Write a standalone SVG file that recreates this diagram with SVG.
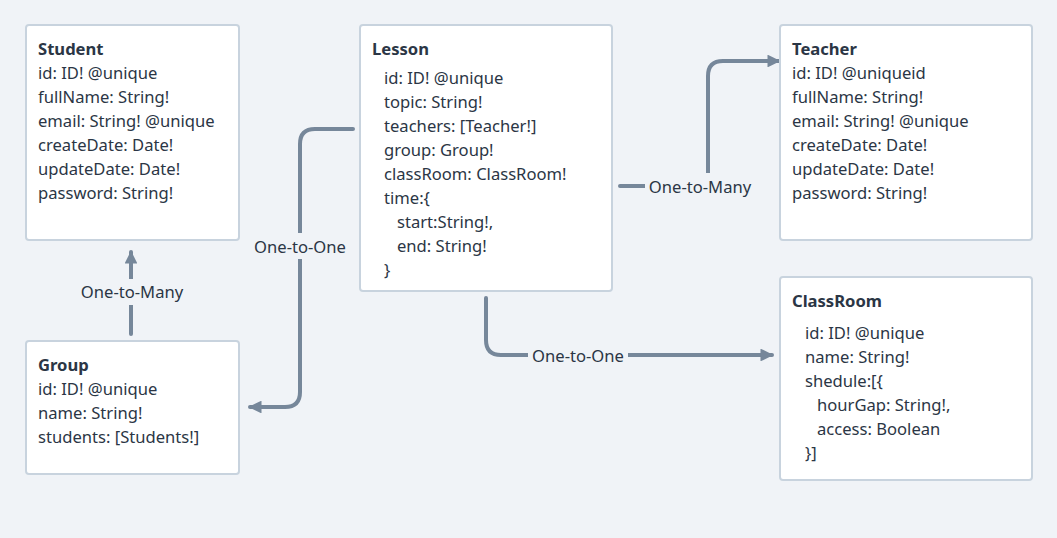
<svg xmlns="http://www.w3.org/2000/svg" width="1057" height="538" viewBox="0 0 1057 538">
<defs>
<style>
.bg{fill:#f0f3f7}
.box{fill:#ffffff;stroke:#c8d3de;stroke-width:2}
text{font-family:"Noto Sans","DejaVu Sans",sans-serif;font-size:16.6px;fill:#2b3645}
.t{font-weight:bold}
.lbl{text-anchor:middle}
.edge{fill:none;stroke:#76879a;stroke-width:4;stroke-linecap:round;stroke-linejoin:round}
.lb{fill:#f0f3f7}
</style>
<marker id="ah" viewBox="0 0 10 10" refX="9" refY="5" markerWidth="3.2" markerHeight="3.2" orient="auto" markerUnits="strokeWidth">
<path d="M0,0 L10,5 L0,10 z" fill="#76879a"/>
</marker>
</defs>
<rect class="bg" x="0" y="0" width="1057" height="538"/>

<g id="connectors">
<path class="edge" d="M131,334 V252" marker-end="url(#ah)"/>
<rect class="lb" x="76" y="279" width="112" height="26"/>
<text class="lbl" x="132" y="298">One-to-Many</text>

<path class="edge" d="M353,129 H315 Q300,129 300,144 V392 Q300,407 285,407 H250" marker-end="url(#ah)"/>
<rect class="lb" x="250" y="233" width="100" height="26"/>
<text class="lbl" x="300" y="253">One-to-One</text>

<path class="edge" d="M620,186 H708 V76 Q708,61 723,61 H779" marker-end="url(#ah)"/>
<rect class="lb" x="645" y="173" width="110" height="26"/>
<text class="lbl" x="700" y="193">One-to-Many</text>

<path class="edge" d="M486,298 V340 Q486,355 501,355 H772" marker-end="url(#ah)"/>
<rect class="lb" x="528" y="342" width="100" height="26"/>
<text class="lbl" x="578" y="362">One-to-One</text>
</g>

<g id="student">
<rect class="box" x="26" y="25" width="213" height="215" rx="3"/>
<text class="t" x="38" y="55">Student</text>
<text x="38" y="79">id: ID! @unique</text>
<text x="38" y="103">fullName: String!</text>
<text x="38" y="127">email: String! @unique</text>
<text x="38" y="151">createDate: Date!</text>
<text x="38" y="175">updateDate: Date!</text>
<text x="38" y="199">password: String!</text>
</g>

<g id="lesson">
<rect class="box" x="360" y="25" width="252" height="266" rx="3"/>
<text class="t" x="372" y="55">Lesson</text>
<text x="384" y="84">id: ID! @unique</text>
<text x="384" y="108">topic: String!</text>
<text x="384" y="132">teachers: [Teacher!]</text>
<text x="384" y="156">group: Group!</text>
<text x="384" y="180">classRoom: ClassRoom!</text>
<text x="384" y="204">time:{</text>
<text x="397" y="228">start:String!,</text>
<text x="397" y="252">end: String!</text>
<text x="384" y="276">}</text>
</g>

<g id="teacher">
<rect class="box" x="780" y="25" width="252" height="215" rx="3"/>
<text class="t" x="792" y="55">Teacher</text>
<text x="792" y="79">id: ID! @uniqueid</text>
<text x="792" y="103">fullName: String!</text>
<text x="792" y="127">email: String! @unique</text>
<text x="792" y="151">createDate: Date!</text>
<text x="792" y="175">updateDate: Date!</text>
<text x="792" y="199">password: String!</text>
</g>

<g id="group">
<rect class="box" x="26" y="341" width="213" height="133" rx="3"/>
<text class="t" x="38" y="371">Group</text>
<text x="38" y="395">id: ID! @unique</text>
<text x="38" y="419">name: String!</text>
<text x="38" y="443">students: [Students!]</text>
</g>

<g id="classroom">
<rect class="box" x="780" y="277" width="252" height="203" rx="3"/>
<text class="t" x="792" y="307">ClassRoom</text>
<text x="805" y="339">id: ID! @unique</text>
<text x="805" y="363">name: String!</text>
<text x="805" y="387">shedule:[{</text>
<text x="817" y="411">hourGap: String!,</text>
<text x="817" y="435">access: Boolean</text>
<text x="805" y="459">}]</text>
</g>
</svg>
